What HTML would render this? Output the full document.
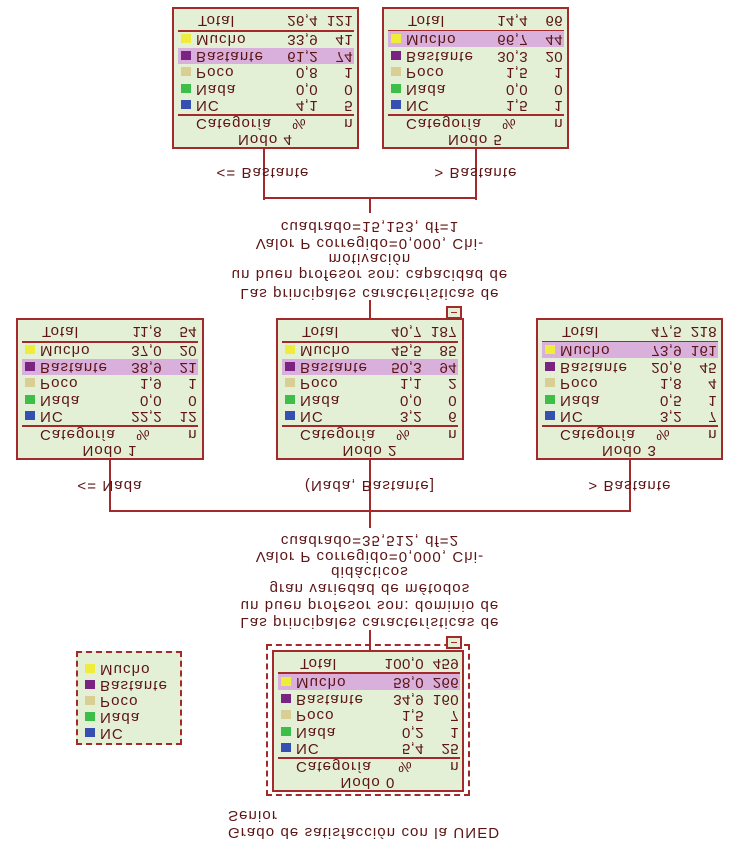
<!DOCTYPE html>
<html><head><meta charset="utf-8"><style>
body{margin:0;width:740px;height:850px;background:#fff;position:relative;overflow:hidden;font-family:"Liberation Sans",sans-serif;font-size:15px;letter-spacing:1.1px;color:#5c1414}
.a{position:absolute}
.f{transform:scaleY(-1)}
.box{position:absolute;width:186px;height:140px;background:#e3f0d5;border:2px solid #a3292b;box-sizing:border-box}
.r{position:absolute;left:4px;width:176px;height:16px;line-height:16px}
.r .sq{position:absolute;left:3px;top:4px;width:10px;height:9px}
.r .l{position:absolute;left:18px}
.r .p{position:absolute;right:36px;letter-spacing:0.4px}
.r .n{position:absolute;right:1px;letter-spacing:0.4px}
.hl{background:#d9b0dc}
.ln{position:absolute;left:4px;width:176px;height:2px;background:#a3292b}
.v{position:absolute;width:2px;background:#a3292b}
.h{position:absolute;height:2px;background:#a3292b}
.t{position:absolute;white-space:nowrap;text-align:center}
.y{background:#f0ec3c}.pu{background:#7a2380}.ta{background:#d9cf94}.g{background:#3dbe48}.b{background:#3550b0}
.minus{position:absolute;width:16px;height:13px;border:2px solid #a3292b;background:#e3f0d5;box-sizing:border-box}
.minus:after{content:"";position:absolute;left:3px;right:3px;top:4px;height:1px;background:#a3292b}
</style></head><body>

<div class="v" style="left:263px;top:148px;height:52px"></div>
<div class="v" style="left:475px;top:148px;height:52px"></div>
<div class="h" style="left:263px;top:197px;width:214px"></div>
<div class="v" style="left:369px;top:197px;height:16px"></div>
<div class="v" style="left:369px;top:300px;height:18px"></div>

<div class="v" style="left:109px;top:460px;height:52px"></div>
<div class="v" style="left:369px;top:460px;height:52px"></div>
<div class="v" style="left:629px;top:460px;height:52px"></div>
<div class="h" style="left:109px;top:510px;width:522px"></div>
<div class="v" style="left:369px;top:510px;height:18px"></div>
<div class="v" style="left:369px;top:630px;height:20px"></div>

<div class="t f" style="left:203px;top:164px;width:120px">&lt;= Bastante</div>
<div class="t f" style="left:416px;top:164px;width:120px">&gt; Bastante</div>
<div class="t f" style="left:50px;top:477px;width:120px">&lt;= Nada</div>
<div class="t f" style="left:290px;top:477px;width:160px">(Nada, Bastante]</div>
<div class="t f" style="left:570px;top:477px;width:120px">&gt; Bastante</div>

<div class="t f" style="left:170px;top:218px;width:400px">cuadrado=15,153, df=1</div>
<div class="t f" style="left:170px;top:235px;width:400px">Valor P corregido=0,000, Chi-</div>
<div class="t f" style="left:170px;top:250px;width:400px">motivación</div>
<div class="t f" style="left:170px;top:266px;width:400px">un buen profesor son: capacidad de</div>
<div class="t f" style="left:170px;top:285px;width:400px">Las principales características de</div>

<div class="t f" style="left:170px;top:532px;width:400px">cuadrado=35,512, df=2</div>
<div class="t f" style="left:170px;top:548px;width:400px">Valor P corregido=0,000, Chi-</div>
<div class="t f" style="left:170px;top:563px;width:400px">didácticos</div>
<div class="t f" style="left:170px;top:580px;width:400px">gran variedad de métodos</div>
<div class="t f" style="left:170px;top:597px;width:400px">un buen profesor son: dominio de</div>
<div class="t f" style="left:170px;top:614px;width:400px">Las principales características de</div>

<div class="t f" style="left:228px;top:807px;text-align:left">Senior</div>
<div class="t f" style="left:228px;top:824px;text-align:left">Grado de satisfacción con la UNED</div>

<div class="a" style="left:76px;top:651px;width:106px;height:94px;border:2px dashed #a3292b;box-sizing:border-box;background:#e3f0d5"></div>
<div class="r f" style="left:82px;top:661px"><span class="sq y"></span><span class="l">Mucho</span></div>
<div class="r f" style="left:82px;top:677px"><span class="sq pu"></span><span class="l">Bastante</span></div>
<div class="r f" style="left:82px;top:693px"><span class="sq ta"></span><span class="l">Poco</span></div>
<div class="r f" style="left:82px;top:709px"><span class="sq g"></span><span class="l">Nada</span></div>
<div class="r f" style="left:82px;top:725px"><span class="sq b"></span><span class="l">NC</span></div>

<div class="a" style="left:266px;top:644px;width:204px;height:152px;border:2px dashed #a3292b;box-sizing:border-box"></div>
<div class="minus" style="left:446px;top:636px"></div>
<div class="box" style="left:272px;top:650px;width:192px;height:142px">
<div class="r f" style="top:3px;width:182px"><span class="l" style="left:22px">Total</span><span class="p">100,0</span><span class="n">459</span></div>
<div class="ln" style="top:20px;width:182px"></div>
<div class="r f hl" style="top:22px;width:182px"><span class="sq y"></span><span class="l">Mucho</span><span class="p">58,0</span><span class="n">266</span></div>
<div class="r f" style="top:39px;width:182px"><span class="sq pu"></span><span class="l">Bastante</span><span class="p">34,9</span><span class="n">160</span></div>
<div class="r f" style="top:55px;width:182px"><span class="sq ta"></span><span class="l">Poco</span><span class="p">1,5</span><span class="n">7</span></div>
<div class="r f" style="top:72px;width:182px"><span class="sq g"></span><span class="l">Nada</span><span class="p">0,2</span><span class="n">1</span></div>
<div class="r f" style="top:88px;width:182px"><span class="sq b"></span><span class="l">NC</span><span class="p">5,4</span><span class="n">25</span></div>
<div class="ln" style="top:105px;width:182px"></div>
<div class="r f" style="top:106px;width:182px"><span class="l">Categoría</span><span class="p" style="right:48px">%</span><span class="n">n</span></div>
<div class="t f" style="left:0;width:188px;top:122px">Nodo 0</div>
</div>

<div class="box" style="left:16px;top:318px;width:188px;height:142px">
<div class="r f" style="top:3px"><span class="l" style="left:20px">Total</span><span class="p">11,8</span><span class="n">54</span></div>
<div class="ln" style="top:21px"></div>
<div class="r f" style="top:22px"><span class="sq y"></span><span class="l">Mucho</span><span class="p">37,0</span><span class="n">20</span></div>
<div class="r f hl" style="top:39px"><span class="sq pu"></span><span class="l">Bastante</span><span class="p">38,9</span><span class="n">21</span></div>
<div class="r f" style="top:55px"><span class="sq ta"></span><span class="l">Poco</span><span class="p">1,9</span><span class="n">1</span></div>
<div class="r f" style="top:72px"><span class="sq g"></span><span class="l">Nada</span><span class="p">0,0</span><span class="n">0</span></div>
<div class="r f" style="top:88px"><span class="sq b"></span><span class="l">NC</span><span class="p">22,2</span><span class="n">12</span></div>
<div class="ln" style="top:105px"></div>
<div class="r f" style="top:106px"><span class="l">Categoría</span><span class="p" style="right:48px">%</span><span class="n">n</span></div>
<div class="t f" style="left:0;width:184px;top:122px">Nodo 1</div>
</div>

<div class="minus" style="left:446px;top:306px"></div>
<div class="box" style="left:276px;top:318px;width:188px;height:142px">
<div class="r f" style="top:3px"><span class="l" style="left:20px">Total</span><span class="p">40,7</span><span class="n">187</span></div>
<div class="ln" style="top:21px"></div>
<div class="r f" style="top:22px"><span class="sq y"></span><span class="l">Mucho</span><span class="p">45,5</span><span class="n">85</span></div>
<div class="r f hl" style="top:39px"><span class="sq pu"></span><span class="l">Bastante</span><span class="p">50,3</span><span class="n">94</span></div>
<div class="r f" style="top:55px"><span class="sq ta"></span><span class="l">Poco</span><span class="p">1,1</span><span class="n">2</span></div>
<div class="r f" style="top:72px"><span class="sq g"></span><span class="l">Nada</span><span class="p">0,0</span><span class="n">0</span></div>
<div class="r f" style="top:88px"><span class="sq b"></span><span class="l">NC</span><span class="p">3,2</span><span class="n">6</span></div>
<div class="ln" style="top:105px"></div>
<div class="r f" style="top:106px"><span class="l">Categoría</span><span class="p" style="right:48px">%</span><span class="n">n</span></div>
<div class="t f" style="left:0;width:184px;top:122px">Nodo 2</div>
</div>

<div class="box" style="left:536px;top:318px;width:187px;height:142px">
<div class="r f" style="top:3px"><span class="l" style="left:20px">Total</span><span class="p">47,5</span><span class="n">218</span></div>
<div class="ln" style="top:21px"></div>
<div class="r f hl" style="top:22px"><span class="sq y"></span><span class="l">Mucho</span><span class="p">73,9</span><span class="n">161</span></div>
<div class="r f" style="top:39px"><span class="sq pu"></span><span class="l">Bastante</span><span class="p">20,6</span><span class="n">45</span></div>
<div class="r f" style="top:55px"><span class="sq ta"></span><span class="l">Poco</span><span class="p">1,8</span><span class="n">4</span></div>
<div class="r f" style="top:72px"><span class="sq g"></span><span class="l">Nada</span><span class="p">0,5</span><span class="n">1</span></div>
<div class="r f" style="top:88px"><span class="sq b"></span><span class="l">NC</span><span class="p">3,2</span><span class="n">7</span></div>
<div class="ln" style="top:105px"></div>
<div class="r f" style="top:106px"><span class="l">Categoría</span><span class="p" style="right:48px">%</span><span class="n">n</span></div>
<div class="t f" style="left:0;width:183px;top:122px">Nodo 3</div>
</div>

<div class="box" style="left:172px;top:7px;width:187px;height:142px">
<div class="r f" style="top:3px"><span class="l" style="left:20px">Total</span><span class="p">26,4</span><span class="n">121</span></div>
<div class="ln" style="top:21px"></div>
<div class="r f" style="top:22px"><span class="sq y"></span><span class="l">Mucho</span><span class="p">33,9</span><span class="n">41</span></div>
<div class="r f hl" style="top:39px"><span class="sq pu"></span><span class="l">Bastante</span><span class="p">61,2</span><span class="n">74</span></div>
<div class="r f" style="top:55px"><span class="sq ta"></span><span class="l">Poco</span><span class="p">0,8</span><span class="n">1</span></div>
<div class="r f" style="top:72px"><span class="sq g"></span><span class="l">Nada</span><span class="p">0,0</span><span class="n">0</span></div>
<div class="r f" style="top:88px"><span class="sq b"></span><span class="l">NC</span><span class="p">4,1</span><span class="n">5</span></div>
<div class="ln" style="top:105px"></div>
<div class="r f" style="top:106px"><span class="l">Categoría</span><span class="p" style="right:48px">%</span><span class="n">n</span></div>
<div class="t f" style="left:0;width:183px;top:122px">Nodo 4</div>
</div>

<div class="box" style="left:382px;top:7px;width:187px;height:142px">
<div class="r f" style="top:3px"><span class="l" style="left:20px">Total</span><span class="p">14,4</span><span class="n">66</span></div>
<div class="ln" style="top:21px"></div>
<div class="r f hl" style="top:22px"><span class="sq y"></span><span class="l">Mucho</span><span class="p">66,7</span><span class="n">44</span></div>
<div class="r f" style="top:39px"><span class="sq pu"></span><span class="l">Bastante</span><span class="p">30,3</span><span class="n">20</span></div>
<div class="r f" style="top:55px"><span class="sq ta"></span><span class="l">Poco</span><span class="p">1,5</span><span class="n">1</span></div>
<div class="r f" style="top:72px"><span class="sq g"></span><span class="l">Nada</span><span class="p">0,0</span><span class="n">0</span></div>
<div class="r f" style="top:88px"><span class="sq b"></span><span class="l">NC</span><span class="p">1,5</span><span class="n">1</span></div>
<div class="ln" style="top:105px"></div>
<div class="r f" style="top:106px"><span class="l">Categoría</span><span class="p" style="right:48px">%</span><span class="n">n</span></div>
<div class="t f" style="left:0;width:183px;top:122px">Nodo 5</div>
</div>

</body></html>
